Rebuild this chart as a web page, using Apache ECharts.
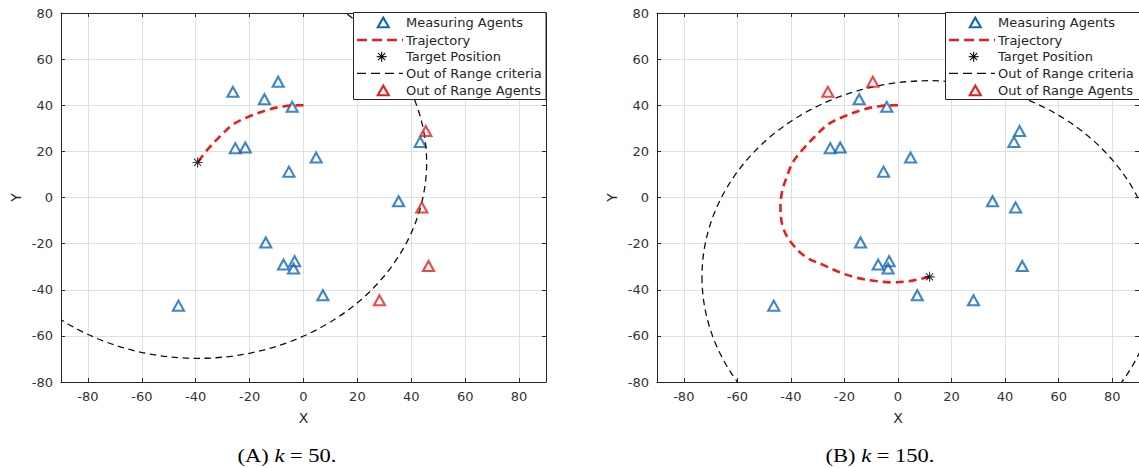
<!DOCTYPE html>
<html><head><meta charset="utf-8">
<script src="https://cdn.jsdelivr.net/npm/echarts@6/dist/echarts.min.js"></script>
<style>html,body{margin:0;padding:0;background:#fff}#c{width:1139px;height:468px}</style>
</head><body><div id="c"></div>
<script>
// ---- data ----
const xTicks = [-80, -60, -40, -20, 0, 20, 40, 60, 80];
const yTicks = [-80, -60, -40, -20, 0, 20, 40, 60, 80];
const agents = [
  [-26.2, 45.8], [-9.4, 50.2], [-14.5, 42.6], [-4.2, 39.3], [-25.3, 21.4],
  [-21.6, 21.7], [-5.4, 11.2], [4.7, 17.3], [43.3, 24.1], [35.3, -1.6],
  [45.4, 28.8], [43.9, -4.3], [-14.0, -19.5], [-7.4, -29.1], [-3.3, -27.6],
  [-3.7, -30.8], [-46.4, -46.9], [7.2, -42.4], [46.4, -29.7], [28.2, -44.6]
];
const outOfRange50 = [10, 11, 18, 19];
const outOfRange150 = [0, 1];
const target50 = [-39.3, 15.2];
const target150 = [11.8, -34.4];
const rangeRadius = 85;
const traj50 = [
  [0, 40], [-7, 39.6], [-13.6, 37.9], [-20.4, 35], [-26, 31.8],
  [-30.9, 26.6], [-35.8, 20.5], [-39.3, 15.2]
];
const traj150 = [
  [0, 40], [-7, 39.6], [-13.6, 37.9], [-20.4, 35], [-26, 31.8],
  [-30.9, 26.6], [-35.8, 20.5], [-39.3, 15.2], [-41.5, 9], [-43.2, 3],
  [-43.9, -4], [-43, -12.8], [-39.9, -19.5], [-34.4, -25.8], [-28, -29.2],
  [-22, -32.3], [-15.8, -34.7], [-8.4, -36.2], [-2, -36.8], [4, -36.3],
  [9.5, -35], [11.8, -34.4]
];
const legendLabels = ['Measuring Agents', 'Trajectory', 'Target Position', 'Out of Range criteria', 'Out of Range Agents'];
const captions = [['(A) ', 'k', ' = 50.'], ['(B) ', 'k', ' = 150.']];

// ---- styles ----
const BLUE = '#0f68b8', RED = '#e81e1e', INK = '#262626', GRIDC = '#e0e0e0';
const FONT = 'DejaVu Sans';

const chart = echarts.init(document.getElementById('c'), null, {renderer: 'svg', width: 1139, height: 468});

function xAx(gi, top) {
  return {
    type: 'value', gridIndex: gi, min: -90, max: 90, position: top ? 'top' : 'bottom',
    name: top ? '' : 'X', nameLocation: 'middle', nameGap: 29,
    nameTextStyle: {fontFamily: FONT, fontSize: 14, color: INK},
    axisLine: {show: true, onZero: false, lineStyle: {color: INK, width: 1}},
    axisTick: {show: true, inside: true, length: 4, customValues: xTicks, lineStyle: {color: INK}},
    axisLabel: {show: !top, customValues: xTicks, margin: 8, fontFamily: FONT, fontSize: 13, color: '#333'},
    splitLine: {show: !top, lineStyle: {color: GRIDC, width: 1}}
  };
}
function yAx(gi, right) {
  return {
    type: 'value', gridIndex: gi, min: -80, max: 80, interval: 20, position: right ? 'right' : 'left',
    name: right ? '' : 'Y', nameLocation: 'middle', nameGap: 38,
    nameTextStyle: {fontFamily: FONT, fontSize: 14, color: INK},
    axisLine: {show: true, onZero: false, lineStyle: {color: INK, width: 1}},
    axisTick: {show: true, inside: true, length: 4, lineStyle: {color: INK}},
    axisLabel: {show: !right, margin: 8, fontFamily: FONT, fontSize: 13, color: '#333'},
    splitLine: {show: !right, lineStyle: {color: GRIDC, width: 1}}
  };
}

const ASTER = 'path://M5,0L5,10M0,5L10,5M1.5,1.5L8.5,8.5M1.5,8.5L8.5,1.5';

function seriesFor(gi, traj, target, outIdx) {
  const xi = gi * 2, yi = gi * 2;
  const blue = agents.filter((a, i) => outIdx.indexOf(i) < 0);
  const red = agents.filter((a, i) => outIdx.indexOf(i) >= 0);
  return [
    {type: 'scatter', xAxisIndex: xi, yAxisIndex: yi, data: blue, symbol: 'triangle', symbolSize: [11, 10],
     itemStyle: {color: 'rgba(0,0,0,0)', borderColor: BLUE, borderWidth: 2.1}, z: 3},
    {type: 'line', xAxisIndex: xi, yAxisIndex: yi, data: traj, showSymbol: false, smooth: 0.35,
     lineStyle: {color: RED, width: 2.6, type: [8, 5]}, z: 4},
    {type: 'scatter', xAxisIndex: xi, yAxisIndex: yi, data: [target], symbol: ASTER, symbolSize: 10,
     itemStyle: {color: 'rgba(0,0,0,0)', borderColor: '#000', borderWidth: 1.1}, z: 5},
    {type: 'custom', xAxisIndex: xi, yAxisIndex: yi, data: [[target[0], target[1], rangeRadius]],
     encode: {x: 0, y: 1}, clip: true, z: 4,
     renderItem: function (params, api) {
       const c = api.coord([api.value(0), api.value(1)]);
       const s = api.size([api.value(2), api.value(2)]);
       const rx = s[0], ry = s[1];
       const d = 'M' + (c[0] - rx) + ' ' + c[1] + ' A' + rx + ' ' + ry + ' 0 1 0 ' + (c[0] + rx) + ' ' + c[1] +
                 ' A' + rx + ' ' + ry + ' 0 1 0 ' + (c[0] - rx) + ' ' + c[1];
       return {type: 'path', shape: {pathData: d}, style: {fill: 'none', stroke: '#111', lineWidth: 1.3, lineDash: [6.5, 4.5]}};
     }},
    {type: 'scatter', xAxisIndex: xi, yAxisIndex: yi, data: red, symbol: 'triangle', symbolSize: [11, 10],
     itemStyle: {color: 'rgba(0,0,0,0)', borderColor: RED, borderWidth: 2.1}, z: 6}
  ];
}

function seg(x1, y1, x2, y2, stroke, lw, dash) {
  const st = {stroke: stroke, lineWidth: lw};
  if (dash) st.lineDash = dash;
  return {type: 'line', shape: {x1: x1, y1: y1, x2: x2, y2: y2}, style: st, z: 101};
}

function legend(dx, w) {
  const ys = [22.7, 40, 56.7, 73.3, 90.7];
  const els = [{type: 'rect', shape: {x: 353.5 + dx, y: 12.5, width: w, height: 87}, style: {fill: '#fff', stroke: INK, lineWidth: 1}, z: 100}];
  const tri = (cx, cy, col) => ({type: 'polygon', shape: {points: [[cx - 5.5, cy + 4.5], [cx + 5.5, cy + 4.5], [cx, cy - 5]]},
    style: {fill: 'none', stroke: col, lineWidth: 2.1}, z: 101});
  els.push(tri(383.3 + dx, ys[0], BLUE));
  els.push(seg(357 + dx, ys[1], 403 + dx, ys[1], RED, 2.6, [10, 5]));
  const ax = 381.7 + dx, ay = ys[2];
  els.push(seg(ax, ay - 5, ax, ay + 5, '#000', 1.1));
  els.push(seg(ax - 5, ay, ax + 5, ay, '#000', 1.1));
  els.push(seg(ax - 3.5, ay - 3.5, ax + 3.5, ay + 3.5, '#000', 1.1));
  els.push(seg(ax - 3.5, ay + 3.5, ax + 3.5, ay - 3.5, '#000', 1.1));
  els.push(seg(357 + dx, ys[3], 403 + dx, ys[3], '#111', 1.2, [9, 5]));
  els.push(tri(383.3 + dx, ys[4], RED));
  legendLabels.forEach((t, i) => els.push({type: 'text', x: 406 + dx, y: ys[i], z: 101,
    style: {text: t, fontFamily: FONT, fontSize: 13, fill: INK, align: 'left', verticalAlign: 'middle'}}));
  return els;
}

function caption(cx, parts) {
  return {type: 'text', x: cx, y: 456, scaleX: 1.25, z: 100,
    style: {text: parts[0] + '{i|' + parts[1] + '}' + parts[2], fontFamily: 'Liberation Serif', fontSize: 18, fill: '#000',
      align: 'center', verticalAlign: 'middle',
      rich: {i: {fontFamily: 'Liberation Serif', fontSize: 18, fontStyle: 'italic', fill: '#000'}}}};
}

const option = {
  animation: false,
  textStyle: {fontFamily: FONT},
  grid: [
    {left: 61, top: 13, width: 485, height: 369},
    {left: 657, top: 13, width: 485, height: 369}
  ],
  xAxis: [xAx(0, false), xAx(0, true), xAx(1, false), xAx(1, true)],
  yAxis: [yAx(0, false), yAx(0, true), yAx(1, false), yAx(1, true)],
  series: [].concat(seriesFor(0, traj50, target50, outOfRange50), seriesFor(1, traj150, target150, outOfRange150)),
  graphic: [].concat(legend(0, 192.5), legend(592, 200), [caption(287, captions[0]), caption(880, captions[1])])
};
chart.setOption(option);
</script></body></html>
